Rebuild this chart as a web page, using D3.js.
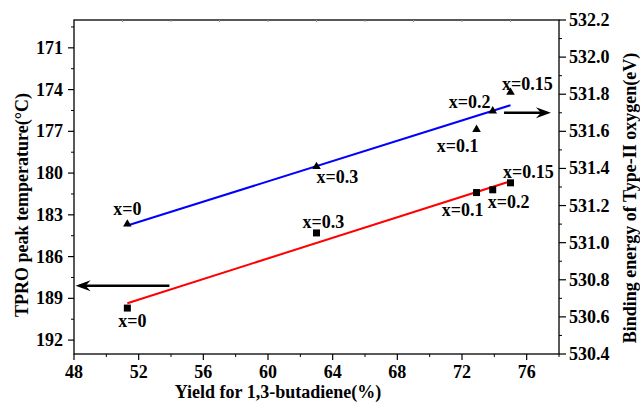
<!DOCTYPE html>
<html>
<head>
<meta charset="utf-8">
<script src="https://cdn.jsdelivr.net/npm/d3@7"></script>
<style>
  body { margin: 0; background: #fff; }
  text { font-family: "Times New Roman", "Liberation Serif", serif; font-weight: bold; }
</style>
</head>
<body>
<svg id="chart" width="640" height="403"></svg>
<script>
// data
var samples = ["x=0", "x=0.3", "x=0.1", "x=0.2", "x=0.15"]
var yieldPct = [51.3, 63.0, 72.9, 73.9, 75.0]
var tproTemp = [189.7, 184.3, 181.4, 181.2, 180.7]      // left axis, squares, red fit
var bindingEnergy = [531.10, 531.41, 531.61, 531.71, 531.81] // right axis, triangles, blue fit

var xTicks = [48, 52, 56, 60, 64, 68, 72, 76]
var leftTicks = [171, 174, 177, 180, 183, 186, 189, 192]
var rightTicks = [530.4, 530.6, 530.8, 531.0, 531.2, 531.4, 531.6, 531.8, 532.0, 532.2]

// label offsets (px) from each marker
var triLabelOff = [[0, -9], [21, 16], [-19, 23], [-23, -3], [17, -2]]
var sqLabelOff = [[5, 19], [7, -5], [-14, 23], [16, 18], [18, -5]]

var svg = d3.select("#chart")
var L = 74, R = 559, T = 20, B = 354

var x = d3.scaleLinear().domain([48, 78]).range([L, R])
var yL = d3.scaleLinear().domain([169, 193]).range([T, B])
var yR = d3.scaleLinear().domain([530.4, 532.2]).range([B, T])

function fit(xs, ys) {
    var mx = d3.mean(xs), my = d3.mean(ys)
    var sxy = d3.sum(xs, (v, i) => (v - mx) * (ys[i] - my))
    var sxx = d3.sum(xs, v => (v - mx) * (v - mx))
    var b = sxy / sxx
    return v => my + b * (v - mx)
}

// frame
svg.append("rect").attr("x", L).attr("y", T).attr("width", R - L).attr("height", B - T)
    .attr("fill", "none").attr("stroke", "#000").attr("stroke-width", 1.3)

// bottom axis
var gx = svg.append("g")
gx.selectAll("line.maj").data(xTicks).enter().append("line")
    .attr("x1", d => x(d)).attr("x2", d => x(d)).attr("y1", B).attr("y2", B + 6)
    .attr("stroke", "#000").attr("stroke-width", 1.2)
gx.selectAll("line.min").data(d3.range(50, 79, 4)).enter().append("line")
    .attr("x1", d => x(d)).attr("x2", d => x(d)).attr("y1", B).attr("y2", B + 3)
    .attr("stroke", "#000").attr("stroke-width", 1)
gx.selectAll("text").data(xTicks).enter().append("text")
    .attr("x", d => x(d)).attr("y", B + 24).attr("text-anchor", "middle")
    .style("font-size", "18px").text(d => d)
// faint top ticks
gx.selectAll("line.top").data(d3.range(51, 78, 3)).enter().append("line")
    .attr("x1", d => x(d)).attr("x2", d => x(d)).attr("y1", T).attr("y2", T + 2)
    .attr("stroke", "#999").attr("stroke-width", 1)

// left axis
var gl = svg.append("g")
gl.selectAll("line.maj").data(leftTicks).enter().append("line")
    .attr("x1", L - 6).attr("x2", L).attr("y1", d => yL(d)).attr("y2", d => yL(d))
    .attr("stroke", "#000").attr("stroke-width", 1.2)
gl.selectAll("line.min").data(d3.range(169.5, 193, 3)).enter().append("line")
    .attr("x1", L - 3).attr("x2", L).attr("y1", d => yL(d)).attr("y2", d => yL(d))
    .attr("stroke", "#000").attr("stroke-width", 1)
gl.selectAll("text").data(leftTicks).enter().append("text")
    .attr("x", L - 11).attr("y", d => yL(d) + 6).attr("text-anchor", "end")
    .style("font-size", "18px").text(d => d)

// right axis
var gr = svg.append("g")
gr.selectAll("line.maj").data(rightTicks).enter().append("line")
    .attr("x1", R).attr("x2", R + 7).attr("y1", d => yR(d)).attr("y2", d => yR(d))
    .attr("stroke", "#000").attr("stroke-width", 1.2)
gr.selectAll("line.min").data(d3.range(530.5, 532.2, 0.2)).enter().append("line")
    .attr("x1", R).attr("x2", R + 3).attr("y1", d => yR(d)).attr("y2", d => yR(d))
    .attr("stroke", "#000").attr("stroke-width", 1)
gr.selectAll("text").data(rightTicks).enter().append("text")
    .attr("x", R + 10).attr("y", d => yR(d) + 6).attr("text-anchor", "start")
    .style("font-size", "18px").text(d => d.toFixed(1))

// axis titles
svg.append("text").attr("x", 278).attr("y", 398).attr("text-anchor", "middle")
    .style("font-size", "18px").text("Yield for 1,3-butadiene(%)")
svg.append("text").attr("transform", "translate(28,205) rotate(-90)").attr("text-anchor", "middle")
    .style("font-size", "18px").text("TPRO peak temperature(°C)")
svg.append("text").attr("transform", "translate(636,198) rotate(-90)").attr("text-anchor", "middle")
    .style("font-size", "18px").text("Binding energy of Type-II oxygen(eV)")

// fit lines
var xr = d3.extent(yieldPct)
var fT = fit(yieldPct, tproTemp), fB = fit(yieldPct, bindingEnergy)
svg.append("line").attr("x1", x(xr[0])).attr("x2", x(xr[1]))
    .attr("y1", yL(fT(xr[0]))).attr("y2", yL(fT(xr[1])))
    .attr("stroke", "#ff0000").attr("stroke-width", 2)
svg.append("line").attr("x1", x(xr[0])).attr("x2", x(xr[1]))
    .attr("y1", yR(fB(xr[0]))).attr("y2", yR(fB(xr[1])))
    .attr("stroke", "#0000ff").attr("stroke-width", 2)

// markers
var tri = d3.symbol().type(d3.symbolTriangle).size(32)
svg.append("g").selectAll("path").data(yieldPct).enter().append("path")
    .attr("d", tri).attr("transform", (d, i) => "translate(" + x(d) + "," + yR(bindingEnergy[i]) + ")")
    .attr("fill", "#000")
svg.append("g").selectAll("rect").data(yieldPct).enter().append("rect")
    .attr("x", d => x(d) - 3.5).attr("y", (d, i) => yL(tproTemp[i]) - 3.5)
    .attr("width", 7).attr("height", 7).attr("fill", "#000")

// point labels
svg.append("g").selectAll("text").data(samples).enter().append("text")
    .attr("x", (d, i) => x(yieldPct[i]) + triLabelOff[i][0])
    .attr("y", (d, i) => yR(bindingEnergy[i]) + triLabelOff[i][1])
    .attr("text-anchor", "middle").style("font-size", "18px").text(d => d)
svg.append("g").selectAll("text").data(samples).enter().append("text")
    .attr("x", (d, i) => x(yieldPct[i]) + sqLabelOff[i][0])
    .attr("y", (d, i) => yL(tproTemp[i]) + sqLabelOff[i][1])
    .attr("text-anchor", "middle").style("font-size", "18px").text(d => d)

// arrows pointing to each axis
function arrow(x1, x2, yy) {
    var dir = x2 > x1 ? 1 : -1
    svg.append("line").attr("x1", x1).attr("x2", x2 - dir * 4).attr("y1", yy).attr("y2", yy)
        .attr("stroke", "#000").attr("stroke-width", 2.4)
    svg.append("path")
        .attr("d", "M" + x2 + "," + yy + "L" + (x2 - dir * 15) + "," + (yy - 5.5) +
            "L" + (x2 - dir * 10) + "," + yy + "L" + (x2 - dir * 15) + "," + (yy + 5.5) + "Z")
        .attr("fill", "#000")
}
arrow(x(53.9), x(48.1), yL(188.1))
arrow(x(74.6), x(77.5), yR(531.70))
</script>
</body>
</html>
